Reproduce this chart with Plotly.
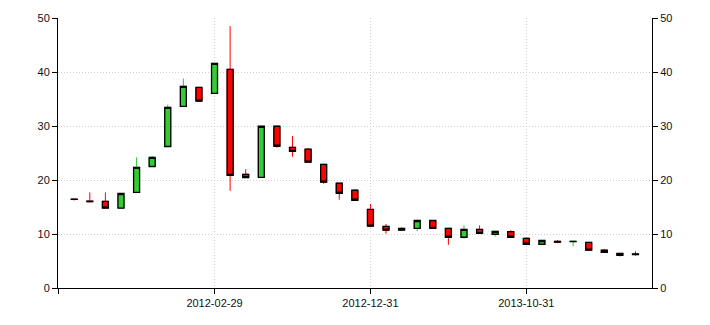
import plotly.graph_objects as go

dates = ["2011-05-31", "2011-06-30", "2011-07-31", "2011-08-31", "2011-09-30", "2011-10-31",
         "2011-11-30", "2011-12-31", "2012-01-31", "2012-02-29", "2012-03-31", "2012-04-30",
         "2012-05-31", "2012-06-30", "2012-07-31", "2012-08-31", "2012-09-30", "2012-10-31",
         "2012-11-30", "2012-12-31", "2013-01-31", "2013-02-28", "2013-03-31", "2013-04-30",
         "2013-05-31", "2013-06-30", "2013-07-31", "2013-08-31", "2013-09-30", "2013-10-31",
         "2013-11-30", "2013-12-31", "2014-01-31", "2014-02-28", "2014-03-31", "2014-04-30",
         "2014-05-31"]
opens = [16.45, 16.1, 16.05, 14.8, 17.7, 22.5, 26.2, 33.65, 37.15, 36.05, 40.5, 21.05,
         20.5, 29.95, 26.05, 25.7, 22.9, 19.4, 18.1, 14.55, 11.4, 10.7, 11.05, 12.5,
         11.05, 9.4, 10.85, 9.95, 10.45, 9.2, 8.1, 8.65, 8.6, 8.45, 7.0, 6.4, 6.3]
highs = [16.5, 17.7, 17.7, 17.5, 24.2, 24.45, 34.0, 38.8, 37.2, 41.7, 48.5, 22.0,
         30.0, 30.0, 28.15, 25.9, 22.9, 19.4, 18.1, 15.55, 11.85, 11.25, 12.55, 12.5,
         11.05, 11.6, 11.6, 10.5, 10.7, 9.4, 8.8, 8.85, 8.65, 8.45, 7.15, 6.4, 6.8]
lows = [16.2, 15.8, 14.8, 14.8, 17.7, 22.5, 26.2, 33.6, 34.6, 36.0, 18.0, 20.4,
        20.5, 26.0, 24.3, 23.3, 19.3, 16.35, 16.2, 11.4, 10.05, 10.7, 10.55, 11.05,
        8.0, 9.15, 10.1, 9.55, 9.4, 8.1, 7.9, 8.3, 7.7, 7.0, 6.6, 5.85, 6.0]
closes = [16.4, 16.0, 14.8, 17.5, 22.35, 24.2, 33.45, 37.35, 34.6, 41.6, 20.85, 20.45,
          29.95, 26.25, 25.3, 23.3, 19.6, 17.55, 16.25, 11.45, 10.7, 11.05, 12.5, 11.05,
          9.4, 10.85, 10.1, 10.5, 9.4, 8.1, 8.8, 8.5, 8.65, 7.0, 6.6, 6.05, 6.2]

tick_labels = ["2012-02-29", "2012-12-31", "2013-10-31"]
y_ticks = [0, 10, 20, 30, 40, 50]

GREEN = "#33cc33"
RED = "#ff0000"

xs = list(range(len(dates)))
tick_idx = [-1] + [dates.index(t) for t in tick_labels]
tick_txt = [""] + tick_labels

body_hi = [max(o, c) for o, c in zip(opens, closes)]
body_lo = [min(o, c) for o, c in zip(opens, closes)]

fig = go.Figure()
# wicks
fig.add_trace(go.Candlestick(
    x=xs, open=opens, high=highs, low=lows, close=closes,
    increasing=dict(line=dict(color=GREEN, width=1), fillcolor=GREEN),
    decreasing=dict(line=dict(color=RED, width=1), fillcolor=RED),
    hoverinfo="skip", showlegend=False))
# bodies with black border
fig.add_trace(go.Candlestick(
    x=xs, open=opens, high=body_hi, low=body_lo, close=closes,
    increasing=dict(line=dict(color="black", width=1.3), fillcolor=GREEN),
    decreasing=dict(line=dict(color="black", width=1.3), fillcolor=RED),
    showlegend=False))
fig.add_trace(go.Scatter(x=[], y=[], yaxis="y2", showlegend=False, hoverinfo="skip"))

font = dict(family="Liberation Sans, Arial, sans-serif", size=11, color="#111")
GRID = "#cfcfcf"
DASH = "1px,2px"
yax = dict(range=[0, 50], tickvals=y_ticks, showgrid=True, gridcolor=GRID,
           griddash=DASH, gridwidth=1, zeroline=False, showline=True, linecolor="black",
           linewidth=1, ticks="outside", ticklen=5, tickcolor="black", tickfont=font,
           fixedrange=True)

fig.update_layout(
    width=710, height=325,
    margin=dict(l=58, r=58, t=18, b=37),
    paper_bgcolor="white", plot_bgcolor="white",
    boxgap=0.45,
    xaxis=dict(range=[-1.04, 37.06], tickvals=tick_idx, ticktext=tick_txt,
               showgrid=True, gridcolor=GRID, griddash=DASH, gridwidth=1,
               zeroline=False, showline=True, linecolor="black", linewidth=1,
               ticks="outside", ticklen=5, tickcolor="black", tickfont=font,
               rangeslider=dict(visible=False)),
    yaxis=yax,
    yaxis2=dict(yax, overlaying="y", side="right", showgrid=False),
)

fig.write_html("out.html")
